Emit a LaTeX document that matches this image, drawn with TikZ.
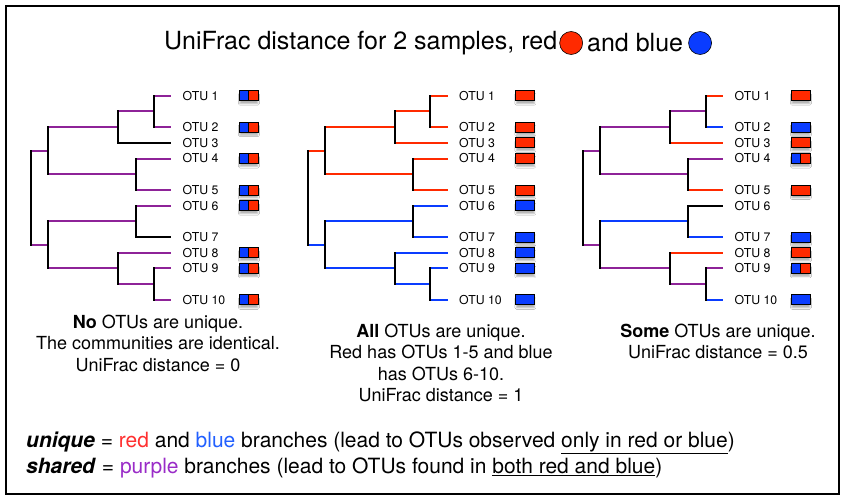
\documentclass[tikz,border=0pt]{standalone}
\usepackage{fontspec}
\setmainfont{TeX Gyre Heros}
\usetikzlibrary{positioning,shadows.blur}
\definecolor{sred}{HTML}{FF2A00}
\definecolor{sblue}{HTML}{0A3CFF}
\definecolor{spurple}{HTML}{8E2398}
\definecolor{txtred}{HTML}{FF3030}
\definecolor{txtblue}{HTML}{2260FF}
\definecolor{txtpurple}{HTML}{9A2CC8}

% one tree: #1 prefix, #2 x of the root, #3 branches (child/parent/style), #4 boxes (leaf/style)
\newcommand{\otutree}[4]{%
  \begin{scope}[xshift=#2pt]
  \coordinate (#1r) at (0,197.75);
  \coordinate (#1A) at (17,150.65);
  \coordinate (#1B) at (17,244.85);
  \coordinate (#1n123) at (87,127.1);
  \coordinate (#1n12) at (122.5,111.4);
  \coordinate (#1n45) at (105,174.2);
  \coordinate (#1n67) at (105,221.3);
  \coordinate (#1n8910) at (87,268.4);
  \coordinate (#1n910) at (122.5,284.1);
  \foreach \k [count=\i] in {0,2,3,4,6,7,9,10,11,13}
    \coordinate (#1l\i) at (140,95.7+\k*15.7);
  \foreach \c/\p/\s in {#3}
    \draw[\s] (#1\p |- #1\c) -- (#1\c);
  \foreach \p/\t/\b in {r/A/B,A/n123/n45,n123/n12/l3,n12/l1/l2,n45/l4/l5,
                        B/n67/n8910,n67/l6/l7,n8910/l8/n910,n910/l9/l10}
    \draw[stem] (#1\p |- #1\t) -- (#1\p |- #1\b);
  \foreach \i in {1,...,10}
    \node[otu,right=10.5pt of #1l\i] (#1t\i) {OTU \i};
  \foreach \i/\s in {#4}
    \node[\s,right=67.5pt of #1l\i] (#1b\i) {};
  \end{scope}}

\begin{document}
\begin{tikzpicture}[
  x=1pt,y=-1pt,
  branch/.style={line width=2pt},
  pp/.style={branch,spurple},
  rd/.style={branch,sred},
  bl/.style={branch,sblue},
  bk/.style={branch,black},
  stem/.style={line width=2pt,line cap=rect,black},
  otu/.style={inner sep=1pt,font=\fontsize{12.3}{14}\selectfont},
  box/.style={draw=black,line width=0.8pt,minimum width=19pt,minimum height=10pt,inner sep=0pt,
    blur shadow={shadow xshift=0.5pt,shadow yshift=-3.5pt,shadow blur radius=1.5pt,
      shadow scale=0.95,shadow opacity=30}},
  rbox/.style={box,fill=sred},
  bbox/.style={box,fill=sblue},
  rbbox/.style={box,fill=sred,path picture={
    \fill[sblue] (path picture bounding box.south west) rectangle (path picture bounding box.north);
    \draw[line width=0.8pt] (path picture bounding box.south) -- (path picture bounding box.north);}},
  dot/.style={circle,draw=black,line width=0.6pt,minimum size=23pt,inner sep=0pt},
  headline/.style={inner sep=0pt,font=\fontsize{25}{28}\selectfont},
  note/.style={align=center,font=\fontsize{18}{21.5}\selectfont},
  legend/.style={anchor=west,inner sep=0pt,font=\fontsize{21}{24}\selectfont},
]
\useasboundingbox (0,0) rectangle (845,501);
\fill[white] (0,0) rectangle (845,501);
\draw[line width=2pt] (6,5.5) rectangle (839,494);

% ============ title ============
\node[headline,anchor=west] (head) at (164,43) {UniFrac distance for 2 samples, red};
\node[dot,fill=sred,right=2pt of head] (reddot) {};
\node[headline,right=4pt of reddot] (andblue) {and blue};
\node[dot,fill=sblue,right=5pt of andblue] (bluedot) {};

% ============ tree a: nothing unique ============
\otutree{a}{31}{A/r/pp,B/r/pp,n123/A/pp,n45/A/pp,n12/n123/pp,l3/n123/bk,l1/n12/pp,l2/n12/pp,
  l4/n45/pp,l5/n45/pp,n67/B/pp,n8910/B/pp,l6/n67/pp,l7/n67/bk,l8/n8910/pp,n910/n8910/pp,
  l9/n910/pp,l10/n910/pp}
  {1/rbbox,2/rbbox,4/rbbox,5/rbbox,6/rbbox,8/rbbox,9/rbbox,10/rbbox}
\node[note] (capa) at (158,343) {\textbf{No} OTUs are unique.\\The communities are identical.\\UniFrac distance = 0};

% ============ tree b: everything unique ============
\otutree{b}{307.5}{A/r/rd,B/r/bl,n123/A/rd,n45/A/rd,n12/n123/rd,l3/n123/rd,l1/n12/rd,l2/n12/rd,
  l4/n45/rd,l5/n45/rd,n67/B/bl,n8910/B/bl,l6/n67/bl,l7/n67/bl,l8/n8910/bl,n910/n8910/bl,
  l9/n910/bl,l10/n910/bl}
  {1/rbox,2/rbox,3/rbox,4/rbox,5/rbox,6/bbox,7/bbox,8/bbox,9/bbox,10/bbox}
\node[note] (capb) at (441,363) {\textbf{All} OTUs are unique.\\Red has OTUs 1-5 and blue\\has OTUs 6-10.\\UniFrac distance = 1};

% ============ tree c: some unique ============
\otutree{c}{583}{A/r/pp,B/r/pp,n123/A/pp,n45/A/pp,n12/n123/pp,l3/n123/rd,l1/n12/rd,l2/n12/bl,
  l4/n45/pp,l5/n45/rd,n67/B/bl,n8910/B/pp,l6/n67/bk,l7/n67/bl,l8/n8910/rd,n910/n8910/pp,
  l9/n910/pp,l10/n910/bl}
  {1/rbox,2/bbox,3/rbox,4/rbbox,5/rbox,7/bbox,8/rbox,9/rbbox,10/bbox}
\node[note] (capc) at (718,341.5) {\textbf{Some} OTUs are unique.\\UniFrac distance = 0.5};

% ============ legend ============
\node[legend] (uniq) at (26,443) {\textbf{\textit{unique}} = \textcolor{txtred}{red} and \textcolor{txtblue}{blue} branches (lead to OTUs observed \underline{only in red or blue})};
\node[legend] (shar) at (26,468) {\textbf{\textit{shared}} = \textcolor{txtpurple}{purple} branches (lead to OTUs found in \underline{both red and blue})};
\end{tikzpicture}
\end{document}
